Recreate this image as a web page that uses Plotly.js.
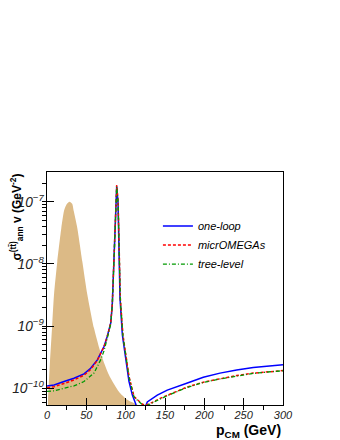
<!DOCTYPE html>
<html>
<head>
<meta charset="utf-8">
<script src="https://cdn.plot.ly/plotly-3.0.1.min.js"></script>
<style>
  html, body { margin: 0; padding: 0; background: #fff; }
  #chart { width: 340px; height: 440px; }
</style>
</head>
<body>
<div id="chart"></div>
<script>
// momentum distribution (shaded, arbitrary normalisation)
const distX = [0, 1.3, 3.8, 6.4, 8.9, 13.1, 18.2, 21.6, 25, 28.6, 32, 34, 38.5, 44.9, 51.3, 59.7, 69.1, 78.8, 91.5, 102.1, 114.8, 125, 140];
const distY = [1e-12, 6.0e-11, 2.7e-10, 9.3e-10, 3.2e-9, 1.1e-8, 3.8e-8, 7.1e-8, 9.1e-8, 1.0e-7, 9.3e-8, 7.1e-8, 3.8e-8, 1.1e-8, 3.2e-9, 9.3e-10, 3.4e-10, 1.64e-10, 8.8e-11, 6.5e-11, 5.4e-11, 4.6e-11, 3.6e-11];

// one-loop
const loopX = [0, 9, 21.6, 34.3, 47, 55.5, 64, 72.5, 76.5, 81, 83, 85.2, 87.3, 88.6, 90.3, 91.5, 92.8, 95.8, 100, 104.2, 108.5, 112.7, 118, 124, 127.5, 140.2, 152.9, 177.6, 198.7, 219.9, 241.1, 262.2, 283.5, 300];
const loopY = [1.09e-10, 1.13e-10, 1.28e-10, 1.45e-10, 1.70e-10, 2.09e-10, 2.86e-10, 4.69e-10, 6.76e-10, 1.12e-9, 2.24e-9, 1.51e-8, 9.55e-8, 1.78e-7, 9.55e-8, 1.51e-8, 2.82e-9, 7.24e-10, 2.82e-10, 1.29e-10, 7.76e-11, 5.62e-11, 3.0e-11, 4.5e-11, 6.03e-11, 7.76e-11, 9.33e-11, 1.20e-10, 1.50e-10, 1.75e-10, 1.97e-10, 2.15e-10, 2.29e-10, 2.38e-10];

// micrOMEGAs
const microX = [0, 9, 21.6, 34.3, 47, 55.5, 64, 72.5, 76.5, 81, 83, 85.2, 87.3, 88.6, 90.4, 91.7, 93.2, 96.5, 100, 104.2, 110.6, 117, 121.5, 126, 131.8, 144.5, 157.2, 177.6, 198.7, 219.9, 241.1, 262.2, 283.5, 300];
const microY = [1.02e-10, 1.06e-10, 1.19e-10, 1.36e-10, 1.62e-10, 2.0e-10, 2.82e-10, 4.68e-10, 6.76e-10, 1.12e-9, 2.24e-9, 1.51e-8, 9.55e-8, 1.86e-7, 1.0e-7, 1.58e-8, 2.82e-9, 7.24e-10, 3.67e-10, 1.55e-10, 7.33e-11, 6.08e-11, 5.5e-11, 5.4e-11, 5.75e-11, 6.92e-11, 8.13e-11, 1.04e-10, 1.25e-10, 1.43e-10, 1.60e-10, 1.75e-10, 1.85e-10, 1.92e-10];

// tree-level
const treeX = [0, 9, 21.6, 34.3, 47, 59.7, 68.2, 72.5, 76.5, 81, 83, 85.2, 87.3, 88.6, 90.4, 91.7, 93.2, 96.5, 100, 104.2, 110.6, 117, 121.5, 126, 131.8, 144.5, 157.2, 177.6, 198.7, 219.9, 241.1, 262.2, 283.5, 300];
const treeY = [8.9e-11, 9.1e-11, 1.0e-10, 1.09e-10, 1.28e-10, 1.75e-10, 2.86e-10, 4.0e-10, 6.3e-10, 1.07e-9, 2.14e-9, 1.45e-8, 9.1e-8, 1.74e-7, 9.55e-8, 1.51e-8, 2.69e-9, 7.08e-10, 3.63e-10, 1.51e-10, 7.24e-11, 6.03e-11, 5.37e-11, 5.25e-11, 5.62e-11, 6.76e-11, 8.04e-11, 1.02e-10, 1.24e-10, 1.41e-10, 1.58e-10, 1.73e-10, 1.84e-10, 1.91e-10];

const FONT = 'Liberation Sans, Arial, sans-serif';

const traces = [
  {x: distX, y: distY, mode: 'lines', fill: 'tozeroy', fillcolor: '#dcba86',
   line: {color: '#dcba86', width: 0, shape: 'spline', smoothing: 0.6},
   showlegend: false, hoverinfo: 'skip'},
  {x: loopX, y: loopY, name: 'one-loop', mode: 'lines',
   line: {color: '#0000ff', width: 1.5}},
  {x: microX, y: microY, name: 'micrOMEGAs', mode: 'lines',
   line: {color: '#ff0000', width: 1.5, dash: '3px,2px'}},
  {x: treeX, y: treeY, name: 'tree-level', mode: 'lines',
   line: {color: '#009900', width: 1.3, dash: '4px,2px,1px,2px'}}
];

const layout = {
  width: 340, height: 440,
  margin: {l: 47, r: 57, t: 172, b: 35},
  paper_bgcolor: '#fff', plot_bgcolor: '#fff',
  font: {family: FONT, color: '#000'},
  xaxis: {
    range: [0, 300], dtick: 50, showgrid: false, zeroline: false,
    showline: true, mirror: true, linecolor: '#000', linewidth: 1,
    ticks: 'inside', ticklen: 7, tickcolor: '#000',
    minor: {dtick: 25, ticklen: 4, tickcolor: '#000', showgrid: false},
    tickfont: {size: 11, style: 'italic', family: FONT, color: '#222'}
  },
  yaxis: {
    type: 'log', range: [-10.27, -6.52], dtick: 1, exponentformat: 'power',
    showgrid: false, zeroline: false,
    showline: true, mirror: true, linecolor: '#000', linewidth: 1,
    ticks: 'inside', ticklen: 7, tickcolor: '#000',
    minor: {dtick: 'D1', ticklen: 4, tickcolor: '#000', showgrid: false},
    tickfont: {size: 11, style: 'italic', family: FONT, color: '#222'}
  },
  legend: {
    x: 0.47, y: 0.83, xanchor: 'left', yanchor: 'top',
    bgcolor: 'rgba(0,0,0,0)', borderwidth: 0,
    itemwidth: 30, tracegroupgap: 0,
    font: {size: 11, style: 'italic', family: FONT}
  },
  annotations: [
    {text: 'p<sub>CM</sub> (GeV)', xref: 'paper', yref: 'paper',
     x: 1, y: -0.11, xanchor: 'right', yanchor: 'middle', showarrow: false,
     font: {size: 14, weight: 'bold', family: FONT}},
    {text: 'σ<sup>(tt̄)</sup><sub>ann</sub> v (GeV<sup>-2</sup>)', xref: 'paper', yref: 'paper',
     x: -0.131, y: 1, xanchor: 'center', yanchor: 'top', textangle: -90, showarrow: false,
     font: {size: 12, weight: 'bold', family: FONT}}
  ]
};

Plotly.newPlot('chart', traces, layout, {displayModeBar: false, staticPlot: true});
</script>
</body>
</html>
